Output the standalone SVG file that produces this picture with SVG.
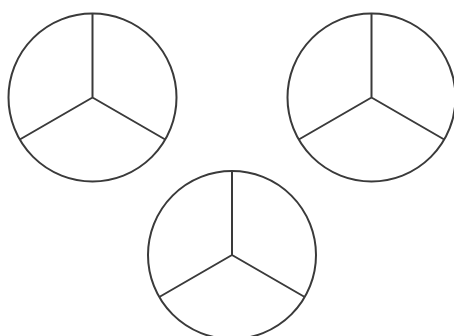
<svg xmlns="http://www.w3.org/2000/svg" width="454" height="336" viewBox="0 0 454 336">
<style>
.c{fill:none;stroke:#3a3a3a;stroke-width:2}
</style>
<defs>
<g id="pie">
<circle class="c" cx="0" cy="0" r="84"/>
<path class="c" d="M0,0V-84M0,0L-72.7,42M0,0L72.7,42"/>
</g>
</defs>
<rect width="454" height="336" fill="#fff"/>
<g id="circle1"><use href="#pie" x="92.5" y="97.5"/></g>
<g id="circle2"><use href="#pie" x="371.5" y="97.5"/></g>
<g id="circle3"><use href="#pie" x="232" y="255"/></g>
</svg>
